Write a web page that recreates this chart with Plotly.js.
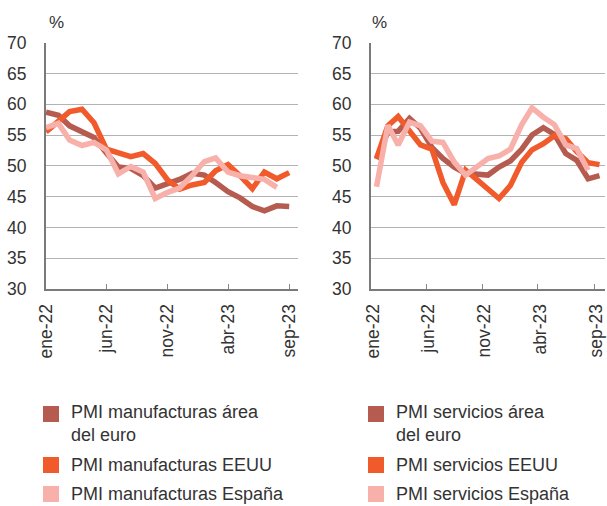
<!DOCTYPE html>
<html>
<head>
<meta charset="utf-8">
<script src="https://cdn.plot.ly/plotly-3.0.1.min.js"></script>
<style>html,body{margin:0;padding:0;background:#fff;}#chart{width:607px;height:506px;}</style>
</head>
<body>
<div id="chart"></div>
<script>
// ---- data ----
const months = ['2022-01','2022-02','2022-03','2022-04','2022-05','2022-06','2022-07','2022-08','2022-09','2022-10','2022-11','2022-12',
                '2023-01','2023-02','2023-03','2023-04','2023-05','2023-06','2023-07','2023-08','2023-09'];
const tickMonths = ['2022-01-01','2022-06-01','2022-11-01','2023-04-01','2023-09-01'];
const tickLabels = ['ene-22','jun-22','nov-22','abr-23','sep-23'];

const manufEuro   = [58.7,58.2,56.5,55.5,54.6,52.1,49.8,49.6,48.4,46.4,47.1,47.8,48.8,48.5,47.3,45.8,44.8,43.4,42.7,43.5,43.4];
const manufUS     = [55.5,57.3,58.8,59.2,57.0,52.7,52.2,51.5,52.0,50.4,47.7,46.2,46.9,47.3,49.2,50.2,48.4,46.3,49.0,47.9,48.9];
const manufSpain  = [56.2,56.9,54.2,53.3,53.8,52.6,48.7,49.9,49.0,44.7,45.7,46.4,48.4,50.7,51.3,49.0,48.4,48.0,47.8,46.5];

const servEuro    = [51.1,55.5,55.6,57.7,56.1,53.0,51.2,49.8,48.8,48.6,48.5,49.8,50.8,52.7,55.0,56.2,55.1,52.0,50.9,47.9,48.4];
const servUS      = [51.2,56.5,58.0,55.6,53.4,52.7,47.3,43.7,49.3,47.8,46.2,44.7,46.8,50.6,52.6,53.6,54.9,54.4,52.3,50.5,50.2];
const servSpain   = [46.6,56.6,53.4,57.1,56.5,54.0,53.8,50.6,48.5,49.7,51.2,51.6,52.7,56.7,59.4,57.9,56.7,53.4,52.8,49.3];

const manufNames = ['PMI manufacturas área<br>del euro','PMI manufacturas EEUU','PMI manufacturas España'];
const servNames  = ['PMI servicios área<br>del euro','PMI servicios EEUU','PMI servicios España'];
const colors = ['#B65B4F','#F15A2B','#F8B1AA'];

// ---- layout helpers (pixels -> paper) ----
const W = 607, H = 506;
const px = p => p / W;
const py = p => 1 - p / H;
const FONT = 'Liberation Sans, Arial, sans-serif';
const TXT = '#333333';

const midMonth = months.map(m => m + '-16');

function mk(x, y, name, color, xa, ya) {
  return {x: x.slice(0, y.length), y: y, name: name.replace('<br>',' '), type: 'scatter', mode: 'lines',
          line: {color: color, width: 5.5}, xaxis: xa, yaxis: ya, showlegend: false, hoverinfo: 'skip'};
}

const traces = [
  mk(months, manufEuro,  manufNames[0], colors[0], 'x', 'y'),
  mk(months, manufUS,    manufNames[1], colors[1], 'x', 'y'),
  mk(months, manufSpain, manufNames[2], colors[2], 'x', 'y'),
  mk(midMonth, servEuro,  servNames[0], colors[0], 'x2', 'y2'),
  mk(midMonth, servUS,    servNames[1], colors[1], 'x2', 'y2'),
  mk(midMonth, servSpain, servNames[2], colors[2], 'x2', 'y2')
];

const yDomain = [py(289), py(42.7)];
function xaxis(domain, range, shift, anchor) {
  return {domain: domain, type: 'date', range: range, anchor: anchor,
    tickmode: 'array', tickvals: tickMonths, ticktext: tickLabels,
    tickangle: -90, ticks: 'inside', ticklen: 5, tickwidth: 1, tickcolor: '#888888',
    showline: true, linecolor: '#7a7a7a', linewidth: 2, showgrid: false, zeroline: false,
    ticklabelstandoff: 6, ticklabelshift: shift, ticklabeloverflow: 'allow',
    tickfont: {family: FONT, size: 17.5, color: TXT}, automargin: false, fixedrange: true};
}
function yaxis(anchor) {
  return {domain: yDomain, range: [30, 70], dtick: 5, tick0: 30, anchor: anchor,
    showline: true, linecolor: '#7a7a7a', linewidth: 2, showgrid: true, gridcolor: '#b3b3b3', gridwidth: 1,
    zeroline: false, ticks: '', ticklabelstandoff: 14,
    tickfont: {family: FONT, size: 17.5, color: TXT}, automargin: false, fixedrange: true};
}

const shapes = [];
const annotations = [
  {text: '%', x: px(56), y: py(23), xref: 'paper', yref: 'paper', showarrow: false, xanchor: 'center', yanchor: 'middle',
   font: {family: FONT, size: 17, color: TXT}},
  {text: '%', x: px(379), y: py(23), xref: 'paper', yref: 'paper', showarrow: false, xanchor: 'center', yanchor: 'middle',
   font: {family: FONT, size: 17, color: TXT}}
];
const rowCenters = [414, 465, 494];
[[manufNames, 43], [servNames, 368]].forEach(([names, x0]) => {
  names.forEach((nm, i) => {
    const c = rowCenters[i];
    shapes.push({type: 'rect', xref: 'paper', yref: 'paper', x0: px(x0), x1: px(x0 + 16), y0: py(c - 8), y1: py(c + 8),
                 fillcolor: colors[i], line: {width: 0}});
    annotations.push({text: nm, x: px(x0 + 27), y: py(c), xref: 'paper', yref: 'paper', showarrow: false,
                 xanchor: 'left', yanchor: i === 0 ? 'top' : 'middle', yshift: i === 0 ? 13 : 0, align: 'left',
                 borderpad: 0,
                 font: {family: FONT, size: 18, color: TXT}});
  });
});

const layout = {
  width: W, height: H, margin: {l: 0, r: 0, t: 0, b: 0},
  paper_bgcolor: '#ffffff', plot_bgcolor: '#ffffff',
  showlegend: false,
  xaxis:  xaxis([px(46), px(298)], ['2022-01-01', '2023-09-23'], 0, 'y'),
  yaxis:  yaxis('x'),
  xaxis2: xaxis([px(371), px(605)], ['2022-01-01', '2023-10-01'], 2, 'y2'),
  yaxis2: yaxis('x2'),
  shapes: shapes, annotations: annotations
};

Plotly.newPlot('chart', traces, layout, {staticPlot: true, displayModeBar: false});
</script>
</body>
</html>
